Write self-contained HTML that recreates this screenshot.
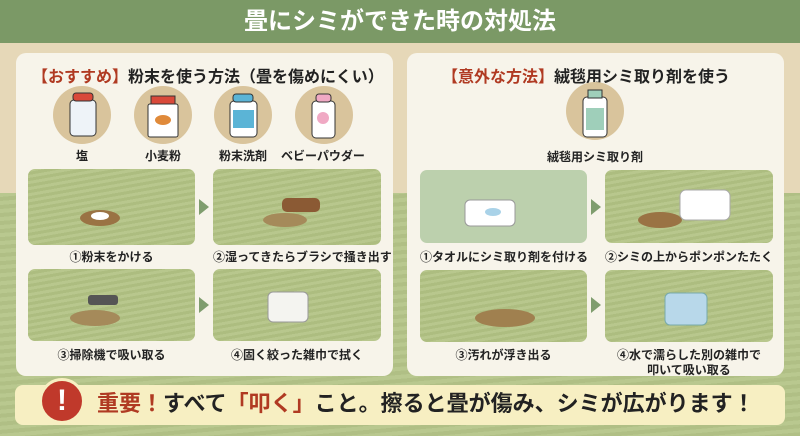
<!DOCTYPE html>
<html><head><meta charset="utf-8"><style>
*{margin:0;padding:0;box-sizing:border-box}
body{width:800px;height:436px;overflow:hidden;position:relative;font-family:"Liberation Sans","Noto Sans CJK JP",sans-serif;background:#b6c48e}
.abs{position:absolute}
.hdr{left:0;top:0;width:800px;height:43px;background:#7b9966;color:#fff;font-size:24px;font-weight:bold;text-align:center;line-height:43px}
.wall{left:0;top:43px;width:800px;height:150px;background:#e6d8b8}
.panel{background:#f7f4ea;border-radius:10px}
.ttl{font-size:16px;font-weight:bold;color:#222;white-space:nowrap}
.red{color:#b03a22}
.circ{width:58px;height:58px;border-radius:50%;background:#d9c49c}
.lbl{font-size:12px;font-weight:bold;color:#222;text-align:center;width:100px;white-space:nowrap}
.tile{border-radius:7px;overflow:hidden;background:repeating-linear-gradient(170deg,#b8c78d 0 3px,#adbd80 3px 6px)}
.cap{font-size:12px;font-weight:bold;color:#222;text-align:center;white-space:nowrap;line-height:15px}
.arr{width:0;height:0;border-top:8px solid transparent;border-bottom:8px solid transparent;border-left:10px solid #7f9d6e}
</style></head><body>
<div class="abs wall"></div>
<div class="abs" style="left:0;top:193px;width:800px;height:243px;background:repeating-linear-gradient(175deg,#b9c88f 0 4px,#b0bf85 4px 8px)"></div>
<div class="abs hdr">畳にシミができた時の対処法</div>

<!-- left panel -->
<div class="abs panel" style="left:16px;top:53px;width:377px;height:323px"></div>
<div class="abs ttl" style="left:32px;top:63px"><span class="red">【おすすめ】</span>粉末を使う方法（畳を傷めにくい）</div>
<div class="abs circ" style="left:53px;top:86px"></div>
<div class="abs circ" style="left:134px;top:86px"></div>
<div class="abs circ" style="left:214px;top:86px"></div>
<div class="abs circ" style="left:295px;top:86px"></div>
<svg class="abs" style="left:0;top:0" width="800" height="436">
 <rect x="70" y="100" width="26" height="36" rx="4" fill="#eef3f8" stroke="#333"/><rect x="73" y="93" width="20" height="8" rx="3" fill="#d9493a" stroke="#333"/>
 <rect x="148" y="104" width="30" height="33" rx="2" fill="#fff" stroke="#333"/><rect x="151" y="96" width="24" height="8" fill="#d9493a" stroke="#333"/><ellipse cx="163" cy="120" rx="8" ry="5" fill="#e08a3a"/>
 <rect x="230" y="101" width="27" height="36" rx="4" fill="#fff" stroke="#333"/><rect x="233" y="94" width="20" height="8" rx="3" fill="#5bb4d6" stroke="#333"/><rect x="233" y="110" width="21" height="18" fill="#5bb4d6"/>
 <rect x="312" y="101" width="23" height="37" rx="4" fill="#fff" stroke="#333"/><rect x="316" y="94" width="15" height="8" rx="3" fill="#f0a9c4" stroke="#333"/><circle cx="323" cy="118" r="6" fill="#f0a9c4"/>
</svg>
<div class="abs lbl" style="left:32px;top:147px">塩</div>
<div class="abs lbl" style="left:113px;top:147px">小麦粉</div>
<div class="abs lbl" style="left:193px;top:147px">粉末洗剤</div>
<div class="abs lbl" style="left:273px;top:147px">ベビーパウダー</div>

<div class="abs tile" style="left:28px;top:169px;width:167px;height:76px"></div>
<div class="abs tile" style="left:213px;top:169px;width:168px;height:76px"></div>
<div class="abs tile" style="left:28px;top:269px;width:167px;height:72px"></div>
<div class="abs tile" style="left:213px;top:269px;width:168px;height:72px"></div>
<div class="abs arr" style="left:199px;top:199px"></div>
<div class="abs arr" style="left:199px;top:297px"></div>
<div class="abs cap" style="left:28px;top:250px;width:167px">①粉末をかける</div>
<div class="abs cap" style="left:213px;top:250px;width:168px">②湿ってきたらブラシで掻き出す</div>
<div class="abs cap" style="left:28px;top:348px;width:167px">③掃除機で吸い取る</div>
<div class="abs cap" style="left:213px;top:348px;width:168px">④固く絞った雑巾で拭く</div>

<!-- right panel -->
<div class="abs panel" style="left:407px;top:53px;width:377px;height:323px"></div>
<div class="abs ttl" style="left:442px;top:63px"><span class="red">【意外な方法】</span>絨毯用シミ取り剤を使う</div>
<div class="abs circ" style="left:566px;top:82px"></div>
<div class="abs lbl" style="left:545px;top:148px">絨毯用シミ取り剤</div>
<div class="abs tile" style="left:420px;top:170px;width:167px;height:73px;background:#bcd0ad"></div>
<div class="abs tile" style="left:605px;top:170px;width:168px;height:73px"></div>
<div class="abs tile" style="left:420px;top:270px;width:167px;height:72px"></div>
<div class="abs tile" style="left:605px;top:270px;width:168px;height:72px"></div>
<div class="abs arr" style="left:591px;top:199px"></div>
<div class="abs arr" style="left:591px;top:297px"></div>
<div class="abs cap" style="left:420px;top:250px;width:167px">①タオルにシミ取り剤を付ける</div>
<div class="abs cap" style="left:605px;top:250px;width:168px">②シミの上からポンポンたたく</div>
<div class="abs cap" style="left:420px;top:348px;width:167px">③汚れが浮き出る</div>
<div class="abs cap" style="left:605px;top:348px;width:168px">④水で濡らした別の雑巾で<br>叩いて吸い取る</div>

<svg class="abs" style="left:0;top:0" width="800" height="436">
 <rect x="583" y="97" width="24" height="40" rx="4" fill="#fff" stroke="#333"/><rect x="588" y="90" width="14" height="8" fill="#9fcfba" stroke="#333"/><rect x="586" y="108" width="18" height="22" fill="#9fcfba"/>
 <ellipse cx="100" cy="218" rx="20" ry="8" fill="#9a7344"/><ellipse cx="100" cy="216" rx="9" ry="4" fill="#fff"/>
 <ellipse cx="285" cy="220" rx="22" ry="7" fill="#a58a5a"/><rect x="282" y="198" width="38" height="14" rx="5" fill="#8b5a34"/>
 <ellipse cx="95" cy="318" rx="25" ry="8" fill="#a58a5a"/><rect x="88" y="295" width="30" height="10" rx="3" fill="#555"/>
 <rect x="268" y="292" width="40" height="30" rx="5" fill="#f4f4f0" stroke="#999"/>
 <rect x="465" y="200" width="50" height="26" rx="5" fill="#fff" stroke="#999"/><ellipse cx="493" cy="212" rx="8" ry="4" fill="#a9d2e8"/>
 <ellipse cx="660" cy="220" rx="22" ry="8" fill="#9a7344"/><rect x="680" y="190" width="50" height="30" rx="6" fill="#fff" stroke="#aaa"/>
 <ellipse cx="505" cy="318" rx="30" ry="9" fill="#a0804f"/>
 <rect x="665" y="293" width="42" height="32" rx="5" fill="#b8d8ea" stroke="#7aa"/>
</svg>

<!-- banner -->
<div class="abs" style="left:15px;top:385px;width:770px;height:40px;background:#f7efc2;border-radius:8px"></div>
<div class="abs" style="left:39px;top:378px;width:46px;height:46px;border-radius:50%;background:#c0392b;border:3px solid #f7efc2;color:#fff;font-size:30px;font-weight:bold;text-align:center;line-height:40px">!</div>
<div class="abs" style="left:97px;top:388px;font-size:22px;font-weight:bold;color:#222;white-space:nowrap;line-height:32px"><span class="red">重要！</span>すべて<span class="red">「叩く」</span>こと。擦ると畳が傷み、シミが広がります！</div>
</body></html>
